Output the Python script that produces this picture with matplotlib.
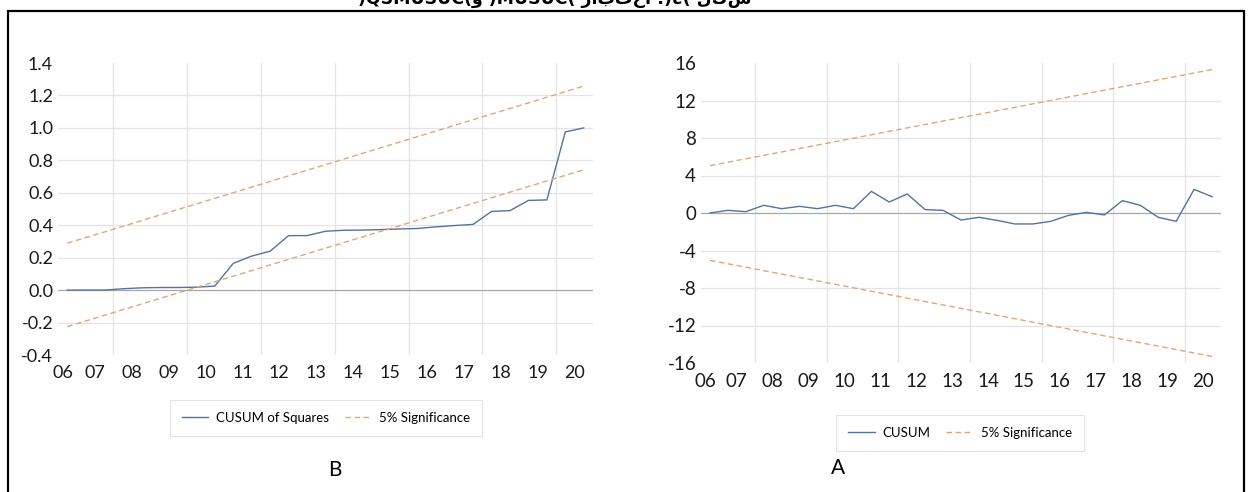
import matplotlib
matplotlib.use("Agg")
import matplotlib.pyplot as plt
from matplotlib.patches import Rectangle
import numpy as np

# half-year observations, 2006H1 .. 2020H1 (x in years, "06" .. "20")
periods = np.arange(6.25, 20.26, 0.5)

cusum = [0.0, 0.28, 0.14, 0.82, 0.46, 0.71, 0.46, 0.82, 0.46, 2.31,
         1.17, 2.03, 0.36, 0.28, -0.75, -0.46, -0.78, -1.17, -1.17, -0.89,
         -0.25, 0.07, -0.21, 1.32, 0.82, -0.46, -0.89, 2.52, 1.74]
cusum_band_x = [6.25, 20.25]
cusum_upper = [5.05, 15.3]
cusum_lower = [-5.05, -15.3]

cusumsq = [0.0, 0.0, 0.0, 0.008, 0.014, 0.016, 0.016, 0.018, 0.025, 0.165,
           0.21, 0.24, 0.336, 0.336, 0.363, 0.369, 0.37, 0.373, 0.377, 0.38,
           0.39, 0.398, 0.405, 0.485, 0.49, 0.553, 0.556, 0.975, 1.0]
sq_upper = [0.289, 1.258]
sq_lower = [-0.225, 0.742]

year_ticks = [6.13, 7, 8, 9, 10, 11, 12, 13, 14, 15, 16, 17, 18, 19, 20]
year_labels = ["06", "07", "08", "09", "10", "11", "12", "13", "14",
               "15", "16", "17", "18", "19", "20"]
grid_years = [7.5, 9.5, 11.5, 13.5, 15.5, 17.5, 19.5]

BLUE = "#56729f"
ORANGE = "#e2a676"
GRID = "#e4e4e4"
ZERO = "#a8a8a8"
FONT = ["Lato", "DejaVu Sans"]

plt.rcParams["font.family"] = FONT

W, H = 1251, 492
fig = plt.figure(figsize=(W / 100, H / 100), dpi=100)


def px_axes(x0, y0, x1, y1):
    return fig.add_axes([x0 / W, 1 - y1 / H, (x1 - x0) / W, (y1 - y0) / H])


def style(ax, ylim, yticks, ylabels, fs):
    ax.set_xlim(6.0, 20.5)
    ax.set_ylim(*ylim)
    for s in ax.spines.values():
        s.set_visible(False)
    for g in grid_years:
        ax.axvline(g, color=GRID, lw=0.9, zorder=0)
    for v in yticks[1:-1]:
        ax.axhline(v, color=ZERO if v == 0 else GRID, lw=0.9, zorder=0)
    ax.set_yticks(yticks)
    ax.set_yticklabels(ylabels)
    ax.set_xticks(year_ticks)
    ax.set_xticklabels(year_labels)
    ax.tick_params(axis="both", length=0, labelsize=fs, colors="#1a1a1a")
    ax.tick_params(axis="y", pad=3.5)
    ax.tick_params(axis="x", pad=7)


# B: CUSUM of squares
axb = px_axes(58, 63, 593, 355)
sq_ticks = [-0.4, -0.2, 0.0, 0.2, 0.4, 0.6, 0.8, 1.0, 1.2, 1.4]
style(axb, (-0.4, 1.4), sq_ticks, [f"{t:.1f}" for t in sq_ticks], 13)
lb1, = axb.plot(periods, cusumsq, color=BLUE, lw=1.0, label="CUSUM of Squares")
lb2, = axb.plot(cusum_band_x, sq_upper, color=ORANGE, lw=1.0,
                ls=(0, (4, 2.5)), label="5% Significance")
axb.plot(cusum_band_x, sq_lower, color=ORANGE, lw=1.0, ls=(0, (4, 2.5)))

# A: CUSUM
axa = px_axes(701, 63, 1221, 363)
c_ticks = [-16, -12, -8, -4, 0, 4, 8, 12, 16]
style(axa, (-16, 16), c_ticks, [str(t) for t in c_ticks], 13.5)
la1, = axa.plot(periods, cusum, color=BLUE, lw=1.0, label="CUSUM")
la2, = axa.plot(cusum_band_x, cusum_upper, color=ORANGE, lw=1.0,
                ls=(0, (4, 2.5)), label="5% Significance")
axa.plot(cusum_band_x, cusum_lower, color=ORANGE, lw=1.0, ls=(0, (4, 2.5)))

leg_kw = dict(ncol=2, fontsize=9.5, frameon=True, fancybox=False,
              edgecolor="#dcdcdc", handlelength=2.0, columnspacing=1.2,
              borderpad=0.9, handletextpad=0.6, loc="center")
lg = fig.legend([lb1, lb2], ["CUSUM of Squares", "5% Significance"],
                bbox_to_anchor=(326 / W, 1 - 418 / H), **leg_kw)
lg.get_frame().set_linewidth(0.8)
lg = fig.legend([la1, la2], ["CUSUM", "5% Significance"],
                bbox_to_anchor=(960 / W, 1 - 433 / H), **leg_kw)
lg.get_frame().set_linewidth(0.8)

fig.text(335 / W, 1 - 470 / H, "B", fontsize=15, ha="center", va="center",
         family=["Lato", "DejaVu Sans"])
fig.text(838 / W, 1 - 468 / H, "A", fontsize=15, ha="center", va="center",
         family=["Lato", "DejaVu Sans"])

# outer frame (runs off the bottom edge)
fig.patches.append(Rectangle((8 / W, -0.1), (1244 - 8) / W, 1.1 - 11 / H,
                             transform=fig.transFigure, fill=False,
                             edgecolor="black", lw=1.6))

# title, cut off by the top edge of the picture as in the source scan
title = "شكل (٤): اختبار (CUSUM) و(CUSUMSQ)"
fig.text(555 / W, 1 + 1 / H, title[::-1], fontsize=12.5, fontweight="bold",
         ha="center", va="center", family=["DejaVu Sans"])

fig.savefig("out.png", dpi=100)
